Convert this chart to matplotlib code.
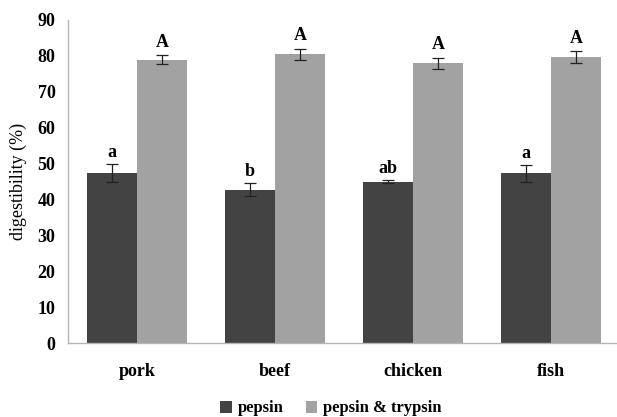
import matplotlib
matplotlib.use("Agg")
import matplotlib.pyplot as plt
import numpy as np

categories = ["pork", "beef", "chicken", "fish"]
pepsin = [47.3, 42.7, 45.0, 47.3]
pepsin_err = [2.5, 1.8, 0.5, 2.3]
pepsin_trypsin = [79.0, 80.4, 77.9, 79.7]
pepsin_trypsin_err = [1.2, 1.6, 1.6, 1.7]
pepsin_letters = ["a", "b", "ab", "a"]
pepsin_trypsin_letters = ["A", "A", "A", "A"]
y_ticks = [0, 10, 20, 30, 40, 50, 60, 70, 80, 90]

plt.rcParams["font.family"] = ["Liberation Serif", "DejaVu Serif"]

fig = plt.figure(figsize=(6.17, 4.17), dpi=100)
W, H = 617, 417
left, right, top, bottom = 68, 620, 20, 343.3
ax = fig.add_axes([left / W, 1 - bottom / H, (right - left) / W, (bottom - top) / H])

x = np.arange(len(categories))
width = 0.365
dark = "#434343"
light = "#a2a2a2"
fs = 13

b1 = ax.bar(x - width / 2, pepsin, width, color=dark, label="pepsin", zorder=2)
b2 = ax.bar(x + width / 2, pepsin_trypsin, width, color=light,
            label="pepsin & trypsin", zorder=2)
ax.errorbar(x - width / 2, pepsin, yerr=pepsin_err, fmt="none", ecolor="#222222",
            elinewidth=0.9, capsize=4, capthick=0.9, zorder=3)
ax.errorbar(x + width / 2, pepsin_trypsin, yerr=pepsin_trypsin_err, fmt="none",
            ecolor="#222222", elinewidth=0.9, capsize=4, capthick=0.9, zorder=3)

for xi, v, e, t in zip(x - width / 2, pepsin, pepsin_err, pepsin_letters):
    ax.text(xi, v + e + 0.9, t, ha="center", va="bottom", fontsize=fs,
            fontweight="bold")
for xi, v, e, t in zip(x + width / 2, pepsin_trypsin, pepsin_trypsin_err,
                       pepsin_trypsin_letters):
    ax.text(xi, v + e + 1.2, t, ha="center", va="bottom", fontsize=fs,
            fontweight="bold")

ax.set_xlim(-0.5, len(categories) - 0.5)
ax.set_ylim(0, 90)
ax.set_yticks(y_ticks)
ax.set_yticklabels([str(t) for t in y_ticks], fontsize=fs, fontweight="bold")
ax.set_xticks(x)
ax.set_xticklabels(categories, fontsize=fs, fontweight="bold")
ax.tick_params(axis="y", length=0, pad=9)
ax.tick_params(axis="x", length=0, pad=14)

for s in ["top", "right"]:
    ax.spines[s].set_visible(False)
for s in ["left", "bottom"]:
    ax.spines[s].set_color("#b5b5b5")
    ax.spines[s].set_linewidth(1.0)

ax.set_ylabel("digestibility (%)", fontsize=fs, labelpad=8)

fig.legend(handles=[b1, b2], loc="center", bbox_to_anchor=(331 / W, 1 - 408.5 / H),
           ncol=2, frameon=False, handlelength=0.7, handleheight=0.7,
           handletextpad=0.35, columnspacing=1.3, borderpad=0.2,
           prop={"weight": "bold", "size": 12})

fig.savefig("out.png", dpi=100)
